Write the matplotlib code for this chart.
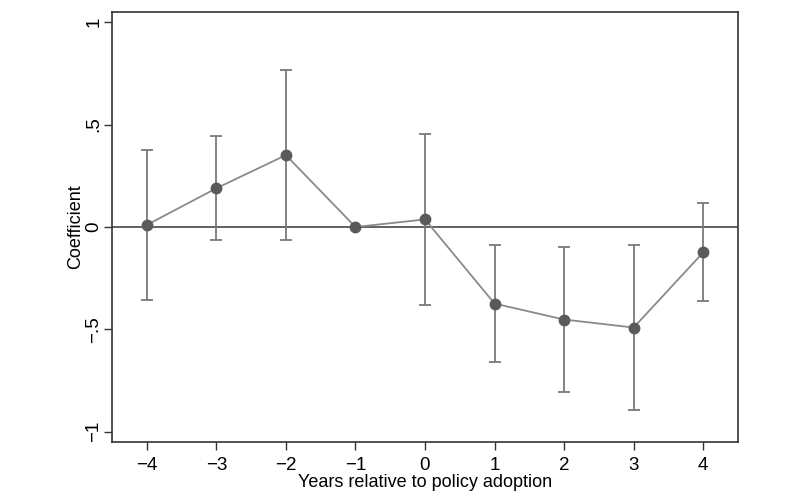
import numpy as np
import matplotlib.pyplot as plt

plt.rcParams['font.family'] = ['Liberation Sans', 'DejaVu Sans']

years = [-4, -3, -2, -1, 0, 1, 2, 3, 4]
coef = [0.01, 0.189, 0.351, 0.0, 0.037, -0.374, -0.452, -0.491, -0.124]
ci_low = [-0.356, -0.063, -0.063, np.nan, -0.379, -0.659, -0.807, -0.893, -0.363]
ci_high = [0.377, 0.444, 0.766, np.nan, 0.452, -0.089, -0.099, -0.089, 0.117]

ytick_vals = [-1, -0.5, 0, 0.5, 1]
ytick_labels = ['\u22121', '\u2212.5', '0', '.5', '1']

fig = plt.figure(figsize=(8, 5), dpi=100)
ax = fig.add_axes([0.14, 0.116, 0.7825, 0.86])

x = np.array(years)
lo = np.array(ci_low)
hi = np.array(ci_high)
c = np.array(coef)
has_ci = ~np.isnan(lo)

ax.axhline(0, color='#555555', lw=1.3, zorder=1)
ax.errorbar(x[has_ci], c[has_ci],
            yerr=[c[has_ci] - lo[has_ci], hi[has_ci] - c[has_ci]],
            fmt='none', ecolor='#7a7a7a', elinewidth=1.3, capsize=4, capthick=1.3, zorder=2)
ax.plot(x, c, color='#8a8a8a', lw=1.3, zorder=3)
ax.plot(x, c, 'o', color='#5a5a5a', ms=7.5, zorder=4)

ax.set_xlim(-4.5, 4.5)
ax.set_ylim(-1.05, 1.05)
ax.set_xticks(years)
ax.set_xticklabels([str(v).replace('-', '\u2212') for v in years])
ax.set_yticks(ytick_vals)
ax.set_yticklabels(ytick_labels, rotation=90, va='center')

for s in ax.spines.values():
    s.set_color('#333333')
    s.set_linewidth(1.2)
ax.tick_params(colors='#333333', labelcolor='black', labelsize=13.5, length=6, width=1)
ax.tick_params(axis='x', pad=5)
ax.tick_params(axis='y', pad=1)

ax.set_xlabel('Years relative to policy adoption', fontsize=13, labelpad=0)
ax.set_ylabel('Coefficient', fontsize=13, labelpad=1)

fig.savefig('out.png', dpi=100)
